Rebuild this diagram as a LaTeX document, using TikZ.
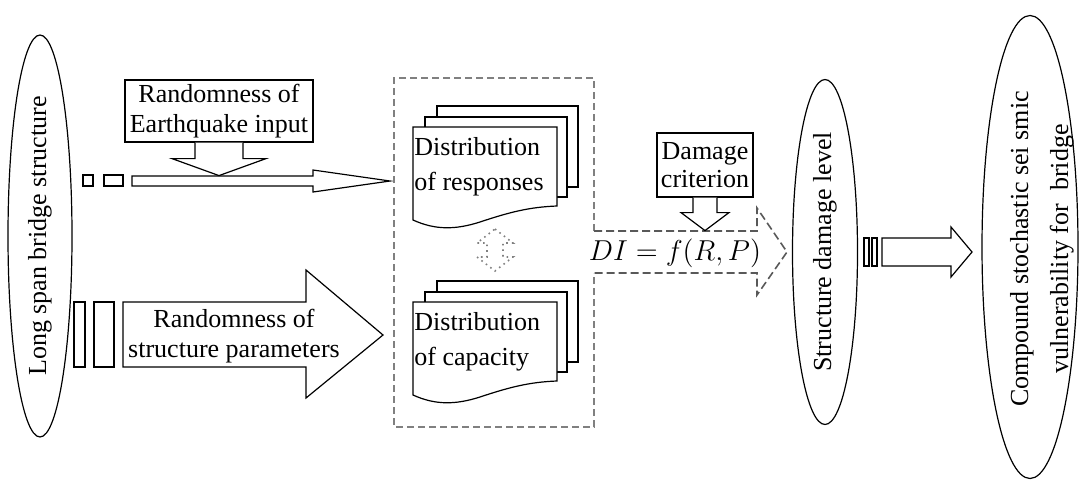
\documentclass[tikz,border=0pt]{standalone}
\usepackage{fontspec}
\setmainfont{Liberation Serif}
\usetikzlibrary{shapes.geometric,calc}

\tikzset{
  every node/.style={font=\fontsize{13}{15}\selectfont},
  blockline/.style={draw=black,line width=0.6pt,fill=white,line join=miter},
  textbox/.style={draw,line width=0.6pt,fill=white,align=center,inner sep=0pt},
  oval/.style={draw,ellipse,line width=0.6pt,inner sep=0pt,rotate=90},
  docline/.style={draw,line width=0.6pt,fill=white},
  doctext/.style={anchor=west,align=left,inner sep=0pt,font=\fontsize{13}{17.5}\selectfont},
  greydash/.style={draw=gray,line width=1pt,dash pattern=on 3.5pt off 2pt},
  darkdash/.style={draw=black!65,line width=0.8pt,dash pattern=on 4pt off 2pt},
  docstack/.pic={
    \draw[docline] (24,-21) rectangle (165,60);
    \draw[docline] (12,-10) rectangle (154,70);
    \draw[docline] (0,0) -- (144,0) -- (144,79) .. controls (117,80) and (97,85) .. (67,95)
      .. controls (42,103) and (22,103) .. (0,93) -- cycle;
  }
}

\begin{document}
\begin{tikzpicture}[x=0.5pt,y=-0.5pt]
			\useasboundingbox (0,0) rectangle (1080,481);
			\node[oval,minimum width=201pt,minimum height=32pt] (bridge) at (40,236) {Long span bridge structure};
			\node[oval,minimum width=172.5pt,minimum height=32.5pt] (damage) at (825,252) {Structure damage level};
			\node[oval,minimum width=231.5pt,minimum height=48pt] (vuln) at (1030,247) {};
			\node[rotate=90,align=center,inner sep=0pt,font=\fontsize{13}{20}\selectfont] (vulntext) at (1042,249) {Compound stochastic sei smic\\vulnerability for\ \ bridge};
			\draw[blockline] (83,175) rectangle (93,186);
			\draw[blockline] (104,175) rectangle (123,186);
			\draw[blockline] (132,176) -- (313,176) -- (313,170) -- (390,181) -- (313,192) -- (313,186) -- (132,186) -- cycle;
			\node[textbox,minimum width=94pt,minimum height=31pt] (quake) at (219,111) {Randomness of\\Earthquake input};
			\draw[blockline] ($(quake.south)+(-24,0)$) -- ++(0,16) -- ++(-23,0) -- ($(quake.south)+(0,33)$) -- ($(quake.south)+(47,16)$) -- ++(-23,0) -- ++(0,-16);
			\draw[blockline] (74,302) rectangle (85,367);
			\draw[blockline] (94,302) rectangle (114,367);
			\draw[blockline] (123,302) -- (306,302) -- (306,270) -- (383,335) -- (306,398) -- (306,367) -- (123,367) -- cycle;
			\node[align=center,inner sep=0pt] (params) at (234,336) {Randomness of\\structure parameters};
			\draw[greydash] (594,231) -- (594,78) -- (394,78) -- (394,427) -- (594,427) -- (594,273);
			\draw[darkdash] (594,231) -- (757,231) -- (757,208) -- (787,252) -- (757,295) -- (757,273) -- (594,273);
			\node[inner sep=0pt,font=\fontsize{13.5}{16}\selectfont] (di) at (675,253) {$DI = f\bigl(R,P\bigr)$};
			\pic at (413,127) {docstack};
			\pic at (413,302) {docstack};
			\node[doctext] (resp) at (414,167) {Distribution\\of responses};
			\node[doctext] (cap) at (414,342) {Distribution\\of capacity};
			\draw[gray,line width=0.8pt,dotted] (495,229) -- (513,243) -- (503,243) -- (503,257) -- (513,257) -- (495,271) -- (477,257) -- (487,257) -- (487,243) -- (477,243) -- cycle;
			\node[textbox,minimum width=48pt,minimum height=32pt,font=\fontsize{13}{14}\selectfont] (crit) at (705,165) {Damage\\criterion};
			\draw[blockline] ($(crit.south)+(-12,0)$) -- ++(0,15) -- ++(-12,0) -- ($(crit.south)+(0,33)$) -- ($(crit.south)+(24,15)$) -- ++(-12,0) -- ++(0,-15);
			\draw[blockline] (864,238) rectangle (869,266);
			\draw[blockline] (872,238) rectangle (877,266);
			\draw[blockline] (882,238) -- (951,238) -- (951,227) -- (972,252) -- (951,277) -- (951,266) -- (882,266) -- cycle;
		\end{tikzpicture}
\end{document}
